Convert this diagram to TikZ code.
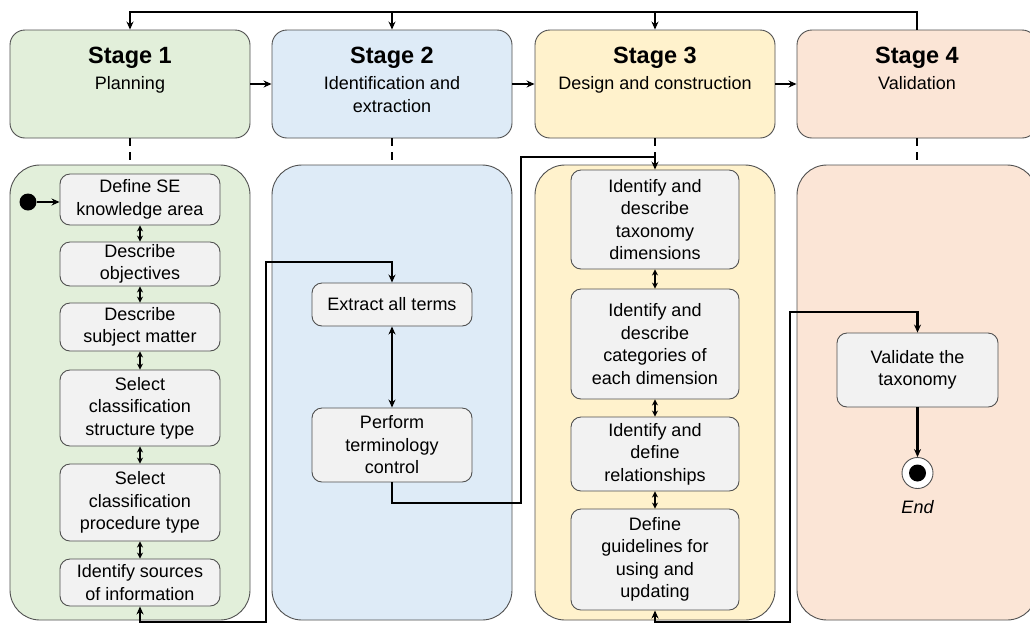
\documentclass[tikz,border=0pt]{standalone}
\usepackage{fontspec}
\setmainfont{Liberation Sans}
\usetikzlibrary{arrows.meta}
\definecolor{cGreen}{HTML}{E2EFDA}
\definecolor{cBlue}{HTML}{DEEBF7}
\definecolor{cYellow}{HTML}{FFF2CC}
\definecolor{cPeach}{HTML}{FBE5D6}
\definecolor{cBox}{HTML}{F2F2F2}
\definecolor{cBorder}{HTML}{505050}
\tikzset{
  stagebox/.style={draw=cBorder, line width=0.9pt, rounded corners=15pt, minimum width=240pt, minimum height=108pt},
  lanebox/.style={draw=cBorder, line width=0.9pt, rounded corners=30pt, minimum width=240pt, minimum height=455pt},
  actbox/.style={draw=cBorder, line width=0.9pt, fill=cBox, rounded corners=10pt, align=center, inner sep=0pt,
     font=\fontsize{18}{22.5}\selectfont},
  stitle/.style={font=\fontsize{23.5}{27}\selectfont\bfseries},
  ssub/.style={font=\fontsize{18}{22.5}\selectfont, align=center, anchor=north},
  conn/.style={line width=2.6pt, black},
  tip/.style={-{Stealth[length=8pt,width=7pt]}},
  dtip/.style={{Stealth[length=6pt,width=6pt]}-{Stealth[length=6pt,width=6pt]}},
  btip/.style={{Stealth[length=8pt,width=7pt]}-{Stealth[length=8pt,width=7pt]}},
  dashline/.style={line width=2.6pt, dash pattern=on 8pt off 6pt}
}
\begin{document}
\begin{tikzpicture}[x=1pt,y=-1pt]
\useasboundingbox (0,0) rectangle (1030,625);
\fill[white] (0,0) rectangle (1030,625);
% stage headers
\node[stagebox, fill=cGreen] (s1) at (130,84) {};
\node[stagebox, fill=cBlue] (s2) at (392,84) {};
\node[stagebox, fill=cYellow] (s3) at (655,84) {};
\node[stagebox, fill=cPeach] (s4) at (917,84) {};
\node[stitle] (t1) at (130,58) {Stage 1};
\node[stitle] (t2) at (392,58) {Stage 2};
\node[stitle] (t3) at (655,58) {Stage 3};
\node[stitle] (t4) at (917,58) {Stage 4};
\node[ssub] (u1) at (130,73) {Planning};
\node[ssub] (u2) at (392,73) {Identification and\\extraction};
\node[ssub] (u3) at (655,73) {Design and construction};
\node[ssub] (u4) at (917,73) {Validation};
% lanes
\node[lanebox, fill=cGreen] (l1) at (130,392.5) {};
\node[lanebox, fill=cBlue] (l2) at (392,392.5) {};
\node[lanebox, fill=cYellow] (l3) at (655,392.5) {};
\node[lanebox, fill=cPeach] (l4) at (917,392.5) {};
% stage 1 activities
\node[actbox, minimum width=160pt, minimum height=51pt] (a1) at (140,199.5) {Define SE\\knowledge area};
\node[actbox, minimum width=160pt, minimum height=44pt] (a2) at (140,264) {Describe\\objectives};
\node[actbox, minimum width=160pt, minimum height=48pt] (a3) at (140,327) {Describe\\subject matter};
\node[actbox, minimum width=160pt, minimum height=76pt] (a4) at (140,408) {Select\\classification\\structure type};
\node[actbox, minimum width=160pt, minimum height=77pt] (a5) at (140,502.5) {Select\\classification\\procedure type};
\node[actbox, minimum width=160pt, minimum height=47pt] (a6) at (140,582.5) {Identify sources\\of information};
% stage 2 activities
\node[actbox, minimum width=160pt, minimum height=43pt] (b1) at (392,304.5) {Extract all terms};
\node[actbox, minimum width=160pt, minimum height=74pt] (b2) at (392,445) {Perform\\terminology\\control};
% stage 3 activities
\node[actbox, minimum width=168pt, minimum height=99pt] (c1) at (655,219.5) {Identify and\\describe\\taxonomy\\dimensions};
\node[actbox, minimum width=168pt, minimum height=110pt] (c2) at (655,344) {Identify and\\describe\\categories of\\each dimension};
\node[actbox, minimum width=168pt, minimum height=74pt] (c3) at (655,454) {Identify and\\define\\relationships};
\node[actbox, minimum width=168pt, minimum height=101pt] (c4) at (655,559.5) {Define\\guidelines for\\using and\\updating};
% stage 4
\node[actbox, minimum width=161pt, minimum height=74pt] (d1) at (917.5,370) {Validate the\\taxonomy};
\node[circle, draw=cBorder, line width=0.9pt, fill=white, minimum size=31pt, inner sep=0pt] (e) at (917.5,473) {};
\node[circle, fill=black, minimum size=17pt, inner sep=0pt] (ei) at (e.center) {};
\node[font=\fontsize{18}{20}\selectfont\itshape] (et) at (917.5,507) {End};
% start
\node[circle, fill=black, minimum size=17pt, inner sep=0pt] (st) at (28,202) {};
% top line
\coordinate (top) at (0,12);
\draw[conn, tip] (s4.north) -- (s4.north|-top) -| (s1.north);
\draw[conn, tip] (s2.north|-top) -- (s2.north);
\draw[conn, tip] (s3.north|-top) -- (s3.north);
% header arrows
\draw[conn, tip] (s1.east) -- (s2.west);
\draw[conn, tip] (s2.east) -- (s3.west);
\draw[conn, tip] (s3.east) -- (s4.west);
% dashed
\draw[dashline] (s1.south) -- (l1.north);
\draw[dashline] (s2.south) -- (l2.north);
\draw[dashline] (s3.south) -- (l3.north);
\draw[dashline] (s4.south) -- (l4.north);
% start arrow
\draw[conn, tip] (st.east) -- (st.east-|a1.west);
% stage 1 internal
\draw[conn, dtip] (a1.south) -- (a2.north);
\draw[conn, dtip] (a2.south) -- (a3.north);
\draw[conn, dtip] (a3.south) -- (a4.north);
\draw[conn, dtip] (a4.south) -- (a5.north);
\draw[conn, dtip] (a5.south) -- (a6.north);
% stage 2 internal
\draw[conn, btip] (b1.south) -- (b2.north);
% stage 3 internal
\draw[conn, dtip] (c1.south) -- (c2.north);
\draw[conn, dtip] (c2.south) -- (c3.north);
\draw[conn, dtip] (c3.south) -- (c4.north);
% stage 4 internal
\draw[conn, tip] (d1.south) -- (e.north);
% cross-stage connectors
\coordinate (k1) at (266,622);
\coordinate (k2) at (266,262);
\draw[conn, btip] (a6.south) |- (k1) -- (k2) -| (b1.north);
\coordinate (k3) at (521,503);
\coordinate (k4) at (521,157);
\draw[conn, tip] (b2.south) |- (k3) -- (k4) -| (c1.north);
\coordinate (k5) at (790,622);
\coordinate (k6) at (790,312);
\draw[conn, btip] (c4.south) |- (k5) -- (k6) -| (d1.north);
\end{tikzpicture}
\end{document}
